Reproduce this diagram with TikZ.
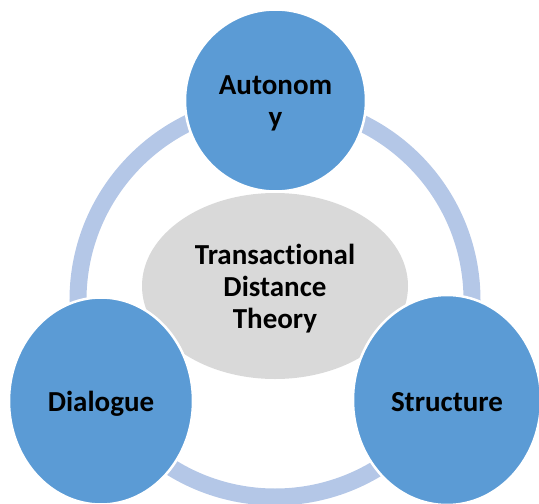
\documentclass[tikz,border=0pt]{standalone}
\usepackage{fontspec}
\setmainfont{Carlito}[Ligatures={NoCommon}]
\usetikzlibrary{shapes.geometric}
\definecolor{cblue}{HTML}{5B9BD5}
\definecolor{ringblue}{HTML}{B4C7E7}
\definecolor{cgray}{HTML}{D9D9D9}
\newcommand{\lowtxt}[1]{\raisebox{-2.5pt}[\height][\depth]{#1}}
\begin{document}
\begin{tikzpicture}[x=1pt,y=-1pt,
  lbl/.style={font=\fontsize{29}{32}\selectfont\bfseries, text=black, align=center},
  bigc/.style={ellipse, fill=cblue, draw=white, line width=2.5pt, inner sep=0pt, lbl},
  hub/.style={ellipse, fill=cgray, inner sep=0pt, minimum width=266pt, minimum height=186pt, lbl},
  ringline/.style={draw=ringblue, line width=17pt}]
\useasboundingbox (0,0) rectangle (539,504);
\node[hub] (theory) at (275,286) {\lowtxt{Transactional}\\\lowtxt{Distance}\\\lowtxt{Theory}};
\coordinate (c) at (275,300);
\draw[ringline] (c) circle (197pt);
\node[bigc, minimum width=181pt, minimum height=182pt] (auto) at (275.5,100.5) {\lowtxt{Autonom}\\\lowtxt{y}};
\node[bigc, minimum width=184pt, minimum height=207pt] (dia) at (101,401) {\lowtxt{Dialogue}};
\node[bigc, minimum width=188pt, minimum height=210pt] (str) at (447,400) {\lowtxt{Structure}};
\end{tikzpicture}
\end{document}
